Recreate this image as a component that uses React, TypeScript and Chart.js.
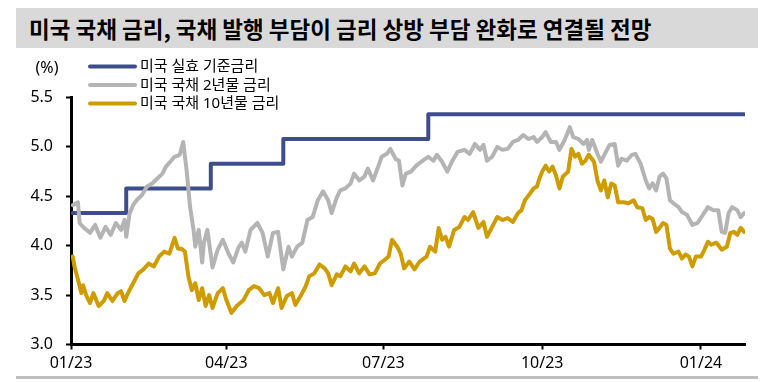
import React, { useEffect, useRef } from "react";
import { Chart, registerables } from "chart.js";

Chart.register(...registerables);

const TITLE = "미국 국채 금리, 국채 발행 부담이 금리 상방 부담 완화로 연결될 전망";
const UNIT = "(%)";
const seriesNames = ["미국 실효 기준금리", "미국 국채 2년물 금리", "미국 국채 10년물 금리"];
const seriesColors = ["#3E4E8C", "#B4B4B4", "#CF9C00"];

// x values are days since 2023-01-01
const tickDays = [0, 90, 181, 273, 365];
const tickLabels = ["01/23", "04/23", "07/23", "10/23", "01/24"];
const yTicks = [3.0, 3.5, 4.0, 4.5, 5.0, 5.5];

const fedDays = [1, 32, 81, 123, 207, 390];
const fedRates = [4.33, 4.58, 4.83, 5.08, 5.33, 5.33];

const t2Days = [
  1, 4, 5, 7, 11, 14, 17, 20, 23, 26, 29, 31, 32, 34, 36, 38, 41, 44, 47, 50,
  53, 55, 58, 60, 63, 65, 67, 69, 71, 72, 74, 76, 77, 79, 82, 85, 88, 91, 94, 97,
  99, 101, 104, 108, 111, 114, 117, 120, 123, 126, 128, 131, 134, 137, 140, 143, 146, 149, 151, 154,
  156, 159, 162, 164, 167, 170, 172, 175, 178, 180, 183, 185, 188, 190, 192, 194, 197, 200, 203, 207,
  210, 212, 215, 218, 221, 224, 228, 231, 234, 237, 239, 241, 244, 247, 250, 253, 256, 259, 262, 265,
  268, 270, 273, 275, 278, 281, 283, 286, 289, 291, 294, 297, 299, 300, 302, 305, 307, 309, 312, 315,
  317, 319, 322, 325, 327, 330, 333, 335, 337, 339, 341, 343, 345, 347, 349, 352, 354, 357, 360, 363,
  366, 369, 372, 375, 377, 379, 381, 383, 386, 388, 390,
];
const t2Yields = [
  4.41, 4.44, 4.23, 4.19, 4.13, 4.21, 4.08, 4.19, 4.11, 4.23, 4.16, 4.26, 4.09, 4.33, 4.41, 4.46, 4.51, 4.6, 4.63, 4.68,
  4.73, 4.8, 4.86, 4.9, 4.92, 5.05, 4.76, 4.39, 4.16, 3.99, 4.16, 3.83, 4.03, 4.16, 3.78, 3.96, 4.06, 3.93, 3.83, 3.98,
  4.03, 3.94, 4.16, 4.23, 4.13, 3.89, 4.13, 4.14, 3.76, 3.99, 3.89, 3.99, 4.03, 4.26, 4.29, 4.46, 4.55, 4.46, 4.33, 4.49,
  4.56, 4.58, 4.63, 4.73, 4.66, 4.7, 4.78, 4.66, 4.8, 4.9, 4.93, 4.98, 4.88, 4.86, 4.61, 4.73, 4.75, 4.81, 4.85, 4.9,
  4.86, 4.92, 4.85, 4.75, 4.86, 4.95, 4.97, 4.93, 5.03, 4.97, 5.02, 4.86, 4.9, 5.0, 4.97, 4.98, 5.05, 5.07, 5.12, 5.08,
  5.1, 5.05, 5.1, 5.15, 5.05, 5.05, 4.97, 5.07, 5.2, 5.1, 5.08, 5.03, 5.07, 4.97, 5.07, 4.93, 4.85, 4.92, 5.02, 5.03,
  4.81, 4.88, 4.86, 4.92, 4.93, 4.83, 4.66, 4.58, 4.63, 4.56, 4.7, 4.73, 4.68, 4.46, 4.43, 4.39, 4.34, 4.31, 4.21, 4.23,
  4.31, 4.39, 4.36, 4.36, 4.14, 4.13, 4.33, 4.39, 4.36, 4.29, 4.33,
];

const t10Days = [
  1, 2, 4, 6, 7, 9, 11, 13, 16, 19, 21, 24, 27, 29, 31, 33, 36, 39, 42, 45,
  48, 51, 54, 57, 60, 62, 64, 66, 68, 70, 72, 74, 76, 78, 80, 82, 85, 88, 90, 93,
  96, 98, 100, 103, 106, 109, 112, 115, 117, 120, 122, 125, 128, 130, 133, 136, 138, 141, 144, 147,
  149, 151, 154, 156, 159, 162, 164, 167, 170, 173, 176, 179, 182, 184, 186, 189, 191, 193, 196, 199,
  202, 206, 208, 211, 213, 215, 217, 219, 222, 225, 228, 230, 233, 236, 239, 241, 244, 247, 250, 253,
  256, 259, 261, 263, 266, 268, 270, 271, 273, 275, 277, 279, 281, 283, 285, 288, 290, 292, 294, 296,
  298, 300, 303, 305, 307, 309, 311, 313, 315, 317, 320, 323, 326, 328, 331, 333, 335, 337, 339, 341,
  343, 345, 347, 349, 352, 354, 356, 358, 360, 362, 365, 367, 369, 371, 374, 377, 380, 382, 384, 386,
  388, 390,
];
const t10Yields = [
  3.89, 3.79, 3.66, 3.52, 3.6, 3.49, 3.42, 3.52, 3.39, 3.44, 3.52, 3.44, 3.52, 3.54, 3.44, 3.52, 3.62, 3.72, 3.76, 3.82,
  3.79, 3.89, 3.94, 3.92, 4.08, 3.97, 3.97, 3.94, 3.69, 3.55, 3.62, 3.45, 3.57, 3.39, 3.5, 3.37, 3.52, 3.57, 3.45, 3.32,
  3.39, 3.42, 3.45, 3.55, 3.59, 3.57, 3.5, 3.52, 3.42, 3.57, 3.37, 3.49, 3.52, 3.4, 3.49, 3.59, 3.69, 3.72, 3.81, 3.77,
  3.72, 3.6, 3.71, 3.69, 3.79, 3.74, 3.82, 3.72, 3.79, 3.71, 3.72, 3.82, 3.86, 3.89, 4.06, 3.99, 3.92, 3.77, 3.84, 3.76,
  3.84, 3.89, 3.99, 3.94, 4.18, 4.06, 4.09, 3.99, 4.16, 4.19, 4.29, 4.26, 4.34, 4.18, 4.24, 4.09, 4.19, 4.29, 4.26, 4.28,
  4.24, 4.33, 4.36, 4.46, 4.53, 4.58, 4.6, 4.66, 4.75, 4.81, 4.75, 4.8, 4.71, 4.58, 4.7, 4.75, 4.98, 4.9, 4.93, 4.83,
  4.86, 4.92, 4.85, 4.66, 4.56, 4.66, 4.49, 4.63, 4.61, 4.44, 4.44, 4.43, 4.46, 4.39, 4.38, 4.26, 4.29, 4.27, 4.14, 4.18,
  4.23, 4.21, 3.97, 3.92, 3.94, 3.87, 3.91, 3.89, 3.79, 3.89, 3.89, 3.96, 4.04, 4.01, 4.03, 3.96, 3.99, 4.13, 4.14, 4.11,
  4.18, 4.14,
];

const toPoints = (xs: number[], ys: number[]) => xs.map((x, i) => ({ x, y: ys[i] }));

const FONT_LATIN = "'Noto Sans', 'Noto Sans CJK KR', sans-serif";

const legendPlugin = {
  id: "customLegend",
  afterDraw(chart: any) {
    const ctx = chart.ctx as CanvasRenderingContext2D;
    ctx.save();
    ctx.fillStyle = "#000";
    ctx.font = `16px ${FONT_LATIN}`;
    ctx.textAlign = "center";
    ctx.textBaseline = "middle";
    ctx.fillText(UNIT, 47, 18);
    const rowsY = [16.5, 35, 53.5];
    seriesNames.forEach((name, i) => {
      const y = rowsY[i];
      ctx.beginPath();
      ctx.strokeStyle = seriesColors[i];
      ctx.lineWidth = 4;
      ctx.lineCap = "round";
      ctx.moveTo(90, y);
      ctx.lineTo(135, y);
      ctx.stroke();
      ctx.fillStyle = "#000";
      ctx.font = `15px ${FONT_LATIN}`;
      ctx.textAlign = "left";
      ctx.fillText(name, 140, y + 0.5);
    });
    ctx.restore();
  },
};

export default function App() {
  const canvasRef = useRef<HTMLCanvasElement | null>(null);

  useEffect(() => {
    if (!canvasRef.current) return;
    const lineCommon = {
      borderWidth: 4,
      pointRadius: 0,
      pointHoverRadius: 0,
      tension: 0,
      borderCapStyle: "round" as const,
      borderJoinStyle: "round" as const,
      fill: false,
    };
    const chart = new Chart(canvasRef.current, {
      type: "line",
      data: {
        datasets: [
          {
            ...lineCommon,
            label: seriesNames[0],
            data: toPoints(fedDays, fedRates),
            borderColor: seriesColors[0],
            backgroundColor: seriesColors[0],
            stepped: true,
            order: 3,
          },
          {
            ...lineCommon,
            label: seriesNames[1],
            data: toPoints(t2Days, t2Yields),
            borderColor: seriesColors[1],
            backgroundColor: seriesColors[1],
            order: 2,
          },
          {
            ...lineCommon,
            label: seriesNames[2],
            data: toPoints(t10Days, t10Yields),
            borderColor: seriesColors[2],
            backgroundColor: seriesColors[2],
            order: 1,
          },
        ],
      },
      options: {
        animation: false,
        responsive: false,
        maintainAspectRatio: false,
        events: [],
        layout: { padding: { top: 47.5, right: 39, left: 0, bottom: 0 } },
        plugins: {
          legend: { display: false },
          tooltip: { enabled: false },
          title: { display: false },
        },
        scales: {
          x: {
            type: "linear",
            min: 0,
            max: 390.5,
            afterFit: (scale: any) => {
              scale.height = 37.5;
            },
            afterBuildTicks: (scale: any) => {
              scale.ticks = tickDays.map((v) => ({ value: v }));
            },
            border: { display: true, color: "#000", width: 3 },
            grid: {
              display: true,
              drawOnChartArea: false,
              drawTicks: true,
              tickLength: 5,
              tickWidth: 2,
              tickColor: "#000",
            },
            ticks: {
              autoSkip: false,
              maxRotation: 0,
              padding: 4,
              color: "#000",
              font: { family: FONT_LATIN, size: 16 },
              callback: (value: any) => {
                const i = tickDays.indexOf(Number(value));
                return i >= 0 ? tickLabels[i] : "";
              },
            },
          },
          y: {
            type: "linear",
            min: 3,
            max: 5.5,
            afterFit: (scale: any) => {
              scale.width = 71;
            },
            afterBuildTicks: (scale: any) => {
              scale.ticks = yTicks.map((v) => ({ value: v }));
            },
            border: { display: true, color: "#000", width: 3 },
            grid: {
              display: true,
              drawOnChartArea: false,
              drawTicks: true,
              tickLength: 5,
              tickWidth: 2,
              tickColor: "#000",
            },
            ticks: {
              padding: 13,
              color: "#000",
              font: { family: FONT_LATIN, size: 16 },
              callback: (value: any) => Number(value).toFixed(1),
            },
          },
        },
      },
      plugins: [legendPlugin],
    });
    return () => chart.destroy();
  }, []);

  return (
    <div style={{ position: "absolute", left: 0, top: 0, width: 784, height: 382, background: "#fff", overflow: "hidden" }}>
      <canvas
        ref={canvasRef}
        width={784}
        height={332}
        style={{ position: "absolute", left: 0, top: 50, width: 784, height: 332, display: "block" }}
      />
      <div
        style={{
          position: "absolute",
          left: 16,
          top: 8,
          width: 742,
          height: 40,
          background: "#D9D9D9",
          boxSizing: "border-box",
          paddingLeft: 13,
          lineHeight: "40px",
          fontFamily: "'Noto Sans CJK KR', sans-serif",
          fontWeight: 700,
          fontSize: 22.5,
          color: "#000",
          whiteSpace: "nowrap",
        }}
      >
        {TITLE}
      </div>
      <div style={{ position: "absolute", left: 16, top: 376, width: 742, height: 3, background: "#BFBFBF" }} />
    </div>
  );
}
